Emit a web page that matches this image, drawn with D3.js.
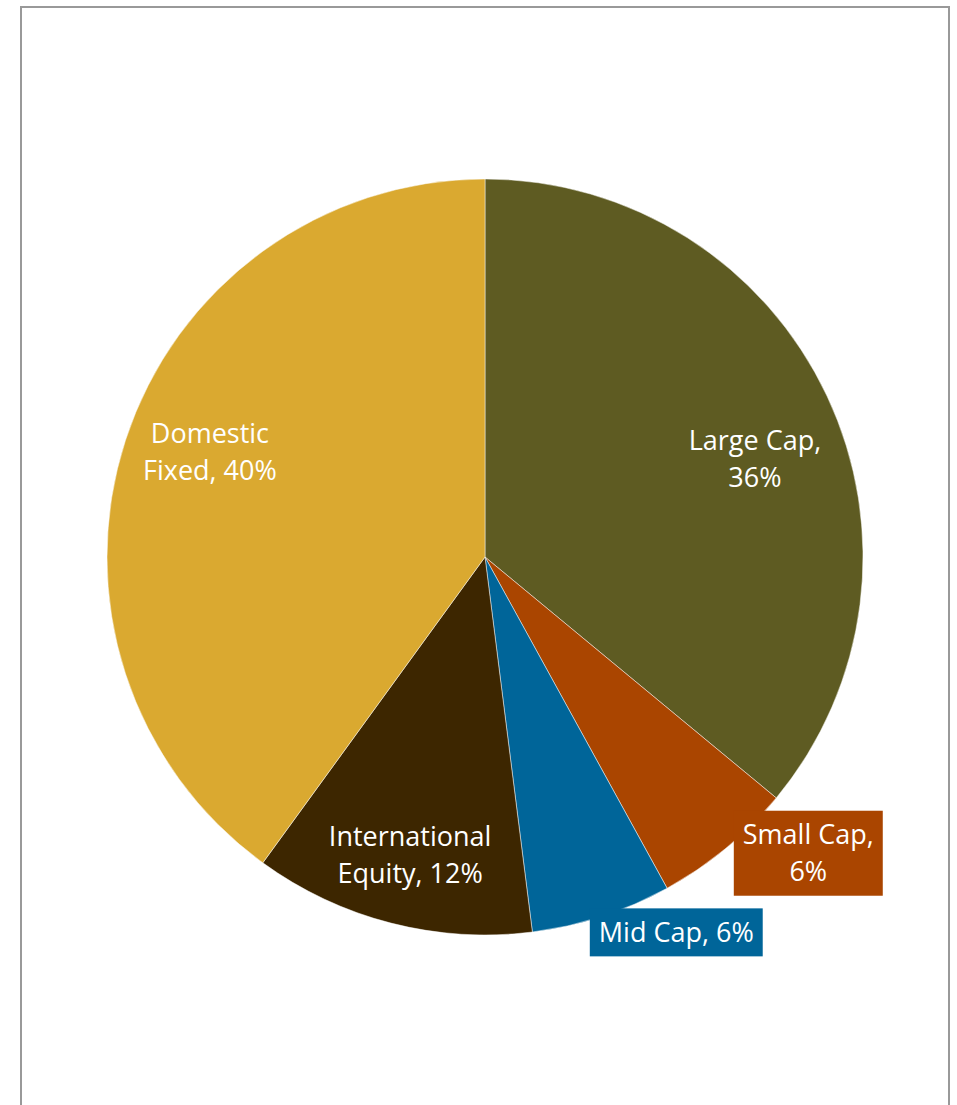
<!DOCTYPE html>
<html>
<head>
<meta charset="utf-8">
<script src="https://cdn.jsdelivr.net/npm/d3@7"></script>
<style>
  html, body { margin: 0; padding: 0; background: #fff; }
  svg { display: block; }
  text { font-family: "Open Sans", Lato, sans-serif; }
</style>
</head>
<body>
<svg id="chart" width="957" height="1105"></svg>
<script>
// Portfolio allocation
const categories = ["Large Cap", "Small Cap", "Mid Cap", "International Equity", "Domestic Fixed"];
const shares = [36, 6, 6, 12, 40];
const colors = ["#5E5B22", "#AA4500", "#006599", "#3D2600", "#DAA930"];
// label text lines (as displayed)
const labelLines = [
  ["Large Cap,", "36%"],
  ["Small Cap,", "6%"],
  ["Mid Cap, 6%"],
  ["International", "Equity, 12%"],
  ["Domestic", "Fixed, 40%"]
];
// label placement: angle (deg, clockwise from top), radius as fraction of pie radius, boxed?
const labelAngle = [70.0, 132.5, 153.0, 194.1, 290.9];
const labelRadius = [0.760, 1.160, 1.1145, 0.813, 0.779];
const labelBoxed = [false, true, true, false, false];

const svg = d3.select("#chart");
const W = 957, H = 1105;

// frame
svg.append("rect")
  .attr("x", 21).attr("y", 7)
  .attr("width", 928).attr("height", H)
  .attr("fill", "#fff")
  .attr("stroke", "#999").attr("stroke-width", 2);

const cx = 485, cy = 557, R = 378;
const g = svg.append("g").attr("transform", `translate(${cx},${cy})`);

const pie = d3.pie().sort(null).value(d => d.value);
const data = categories.map((c, i) => ({ name: c, value: shares[i], i }));
const arcs = pie(data);
const arc = d3.arc().innerRadius(0).outerRadius(R);

g.selectAll("path.slice")
  .data(arcs)
  .enter().append("path")
  .attr("class", "slice")
  .attr("d", arc)
  .attr("fill", d => colors[d.data.i])
  .attr("stroke", "#fff")
  .attr("stroke-width", 0.8)
  .attr("stroke-opacity", 0.6);

const fontSize = 27, lineH = 37;
arcs.forEach(d => {
  const i = d.data.i;
  const a = labelAngle[i] * Math.PI / 180;
  const r = labelRadius[i] * R;
  const lx = r * Math.sin(a), ly = -r * Math.cos(a);
  const lines = labelLines[i];
  const lg = g.append("g").attr("transform", `translate(${lx},${ly})`);
  const t = lg.append("text")
    .attr("text-anchor", "middle")
    .attr("fill", "#fff")
    .attr("font-size", fontSize);
  const y0 = -((lines.length - 1) * lineH) / 2 + fontSize * 0.36;
  lines.forEach((ln, k) => {
    t.append("tspan").attr("x", 0).attr("y", y0 + k * lineH).text(ln);
  });
  if (labelBoxed[i]) {
    const bb = t.node().getBBox();
    const padX = 9, padY = 5.5;
    const h = lines.length * lineH + 2 * padY;
    lg.insert("rect", "text")
      .attr("x", bb.x - padX)
      .attr("y", -h / 2)
      .attr("width", bb.width + 2 * padX)
      .attr("height", h)
      .attr("fill", colors[i]);
  }
});
</script>
</body>
</html>
